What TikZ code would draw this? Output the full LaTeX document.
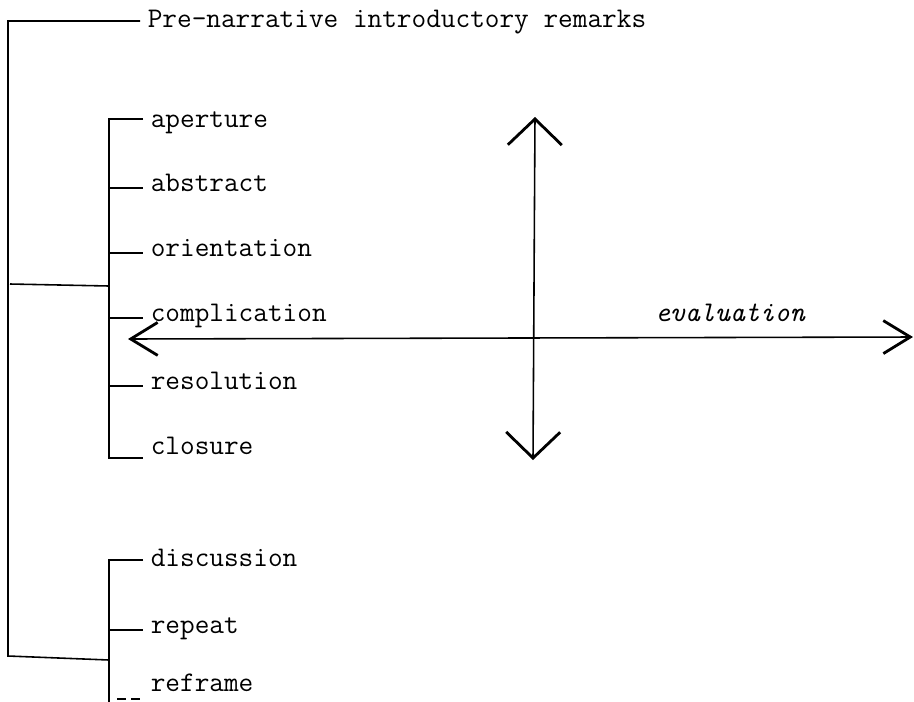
\documentclass[tikz,border=0pt]{standalone}
\usepackage{tikz}
\usetikzlibrary{arrows.meta,positioning}
\begin{document}
\begin{tikzpicture}[x=0.02cm,y=-0.02cm,line width=0.9pt,
  font=\fontsize{16.2}{19}\selectfont\ttfamily,
  lbl/.style={anchor=west,inner xsep=0.14cm,inner ysep=0pt,text height=1ex,text depth=0pt},
  vbarb/.style={{Straight Barb[length=0.52cm,width=1.08cm,line width=1.6pt]}-{Straight Barb[length=0.52cm,width=1.08cm,line width=1.6pt]}},
  hbarb/.style={{Straight Barb[length=0.54cm,width=0.66cm,line width=1.6pt]}-{Straight Barb[length=0.54cm,width=0.66cm,line width=1.6pt]}}]
  \useasboundingbox (0,0) rectangle (914,701);
  % labels
  \node[lbl] (pre) at (140,24) {Pre-narrative introductory remarks};
  \foreach \n/\t/\y in {ap/aperture/124,ab/abstract/188,or/orientation/253,co/complication/318,re/resolution/386,cl/closure/451,di/discussion/563,rp/repeat/630,rf/reframe/688}
    \node[lbl] (\n) at (143,\y) {\t};
  % inner brackets
  \coordinate (atop) at (109,119);
  \coordinate (abot) at (109,458);
  \coordinate (btop) at (109,560);
  \coordinate (bbot) at (109,705);
  \draw (ap.west |- atop) -- (atop) -- (abot) -- (abot -| cl.west);
  \foreach \n in {ab,or,co,re}
    \draw (atop |- \n.west) -- (\n.west);
  \draw (di.west |- btop) -- (btop) -- (bbot);
  \draw (btop |- rp.west) -- (rp.west);
  \draw[dash pattern=on 5pt off 3pt] (117,699) -- (140,699);
  % outer bracket
  \coordinate (otop) at (8,21);
  \coordinate (obot) at (8,656);
  \draw (pre.west |- otop) -- (otop) -- (obot) -- (109,660);
  \draw (10,284) -- (109,286);
  % evaluation axes
  \coordinate (vup) at (535,117);
  \coordinate (vdn) at (533,460);
  \coordinate (hl) at (128,339);
  \coordinate (hr) at (913,337);
  \draw[vbarb] (vup) -- (vdn);
  \draw[hbarb] (hl) -- (hr);
  \node[font=\fontsize{16.2}{19}\selectfont\ttfamily\itshape] (ev) at (730,313) {evaluation};
\end{tikzpicture}
\end{document}
